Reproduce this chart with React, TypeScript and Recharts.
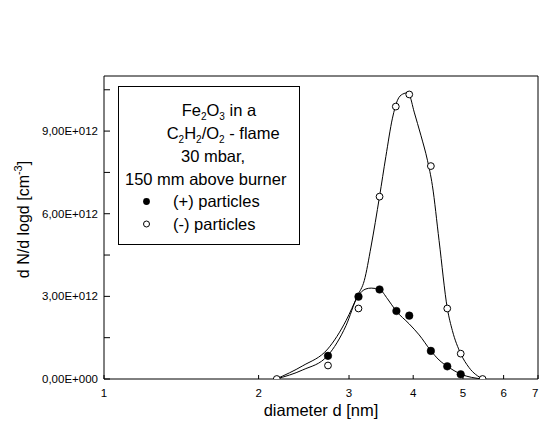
import React from 'react';
import { ComposedChart, Line, XAxis, YAxis, ReferenceLine, Legend } from 'recharts';

const FONT = '"Liberation Sans", Arial, Helvetica, sans-serif';

// ---- measured points (values in units of 1e12 cm^-3) ----
const negDiameters = [2.17, 2.73, 3.13, 3.44, 3.70, 3.93, 4.33, 4.66, 4.95, 5.46];
const negValues = [0, 0.49, 2.56, 6.62, 9.89, 10.33, 7.73, 2.56, 0.92, 0];
const posDiameters = [2.73, 3.13, 3.44, 3.71, 3.93, 4.33, 4.66, 4.95];
const posValues = [0.84, 2.99, 3.25, 2.47, 2.30, 1.02, 0.46, 0.17];

// ---- fitted curves ----
const negFitDiameters = [2.164, 2.438, 2.727, 2.96, 3.118, 3.212, 3.31, 3.44, 3.539, 3.645, 3.728, 3.813, 3.898, 3.929, 4.018, 4.14, 4.264, 4.359, 4.492, 4.662, 4.768, 4.95, 5.136, 5.46];
const negFitValues = [0, 0.48, 1.09, 2.12, 3.03, 3.57, 4.79, 6.63, 8.08, 9.47, 10.12, 10.34, 10.39, 10.33, 9.69, 8.85, 7.94, 7.03, 5.03, 2.56, 1.76, 0.92, 0.42, 0];
const posFitDiameters = [2.164, 2.438, 2.727, 2.96, 3.118, 3.237, 3.314, 3.44, 3.565, 3.702, 3.929, 4.109, 4.328, 4.492, 4.662, 4.95, 5.46];
const posFitValues = [0, 0.33, 0.85, 1.94, 2.99, 3.27, 3.30, 3.25, 2.91, 2.48, 2.0, 1.6, 1.03, 0.69, 0.46, 0.18, 0];

// ---- axes ----
const xTicks = [1, 2, 3, 4, 5, 6, 7];
const xDomain = [1, 7];
const yTicks = [0, 1.5e12, 3e12, 4.5e12, 6e12, 7.5e12, 9e12, 10.5e12];
const yMajorTicks = [0, 3e12, 6e12, 9e12];
const yTickLabels = ['0,00E+000', '3,00E+012', '6,00E+012', '9,00E+012'];
const yDomain = [0, 11e12];

const xTitle = 'diameter d [nm]';
const seriesNames = ['(+) particles', '(-) particles'];

const SCALE = 1e12;
const toRows = (ds: number[], vs: number[]) => ds.map((d, i) => ({ d, v: vs[i] * SCALE }));

const negPoints = toRows(negDiameters, negValues);
const posPoints = toRows(posDiameters, posValues);
const negFit = toRows(negFitDiameters, negFitValues);
const posFit = toRows(posFitDiameters, posFitValues);

const YTick = (props: any) => {
  const { x, y, payload } = props;
  const idx = yMajorTicks.indexOf(payload.value);
  return (
    <g>
      <line x1={x} x2={x + 6} y1={y} y2={y} stroke="#000" strokeWidth={1} />
      {idx >= 0 && (
        <text x={x - 6} y={y + 4} textAnchor="end" fontSize={11.5} fontFamily={FONT} fill="#000">
          {yTickLabels[idx]}
        </text>
      )}
    </g>
  );
};

const XTick = (props: any) => {
  const { x, y, payload, index } = props;
  const last = index === xTicks.length - 1;
  return (
    <g>
      <line x1={x} x2={x} y1={y} y2={y - 4} stroke="#000" strokeWidth={1} />
      <text x={last ? x + 0.5 : x} y={y + 18} textAnchor={last ? 'end' : 'middle'} fontSize={11.5} fontFamily={FONT} fill="#000">
        {String(payload.value)}
      </text>
    </g>
  );
};

const XTitle = (props: any) => {
  const vb = props.viewBox || {};
  return (
    <text x={vb.x + vb.width / 2} y={vb.y + 37} textAnchor="middle" fontSize={16.5} fontFamily={FONT} fill="#000">
      {xTitle}
    </text>
  );
};

const YTitle = (props: any) => {
  const vb = props.viewBox || {};
  const cx = vb.x + 28.5;
  const cy = vb.y + vb.height / 2 - 8;
  return (
    <text x={cx} y={cy} transform={`rotate(-90, ${cx}, ${cy})`} textAnchor="middle" fontSize={16} fontFamily={FONT} fill="#000">
      d N/d logd [cm<tspan dy={-7} fontSize={11}>-3</tspan><tspan dy={7}>]</tspan>
    </text>
  );
};

const FilledDot = (props: any) => {
  const { cx, cy, index } = props;
  if (cx == null || cy == null) return <g key={index} />;
  return <circle key={index} cx={cx} cy={cy} r={3.8} fill="#000" stroke="#000" strokeWidth={0.5} />;
};

const OpenDot = (props: any) => {
  const { cx, cy, index } = props;
  if (cx == null || cy == null) return <g key={index} />;
  return <circle key={index} cx={cx} cy={cy} r={3.4} fill="#fff" stroke="#000" strokeWidth={1} />;
};

const LegendBox = () => (
  <svg width={182} height={159} style={{ display: 'block', fontFamily: FONT }}>
    <rect x={0.5} y={0.5} width={181} height={158} fill="#fff" stroke="#000" strokeWidth={1} />
    <text x={63.7} y={30} fontSize={16.5} fill="#000">
      Fe<tspan dy={4} fontSize={10}>2</tspan>
      <tspan dy={-4}>O</tspan>
      <tspan dy={4} fontSize={10}>3</tspan>
      <tspan dy={-4}> in a</tspan>
    </text>
    <text x={48.7} y={53} fontSize={16.5} fill="#000">
      C<tspan dy={4} fontSize={10}>2</tspan>
      <tspan dy={-4}>H</tspan>
      <tspan dy={4} fontSize={10}>2</tspan>
      <tspan dy={-4}>/O</tspan>
      <tspan dy={4} fontSize={10}>2</tspan>
      <tspan dy={-4}> - flame</tspan>
    </text>
    <text x={63} y={76} fontSize={16.5} fill="#000">30 mbar,</text>
    <text x={7} y={98.5} fontSize={16.5} fill="#000">150 mm above burner</text>
    <circle cx={28.5} cy={115.5} r={3.4} fill="#000" />
    <text x={55} y={121} fontSize={16.5} fill="#000">{seriesNames[0]}</text>
    <circle cx={28.5} cy={138} r={3} fill="#fff" stroke="#000" strokeWidth={1} />
    <text x={55} y={143.5} fontSize={16.5} fill="#000">{seriesNames[1]}</text>
  </svg>
);

export default function App() {
  return (
    <div style={{ position: 'absolute', left: 0, top: 0, width: 539, height: 424, background: '#fff' }}>
      <ComposedChart width={539} height={424} margin={{ top: 76, right: 1, bottom: 0, left: 0 }}>
        <XAxis
          dataKey="d"
          type="number"
          scale="log"
          domain={xDomain}
          ticks={xTicks}
          interval={0}
          allowDataOverflow
          height={45}
          tickSize={0}
          tickMargin={0}
          tickLine={false}
          axisLine={{ stroke: '#000', strokeWidth: 1 }}
          tick={<XTick />}
          label={{ content: <XTitle /> }}
        />
        <YAxis
          type="number"
          domain={yDomain}
          ticks={yTicks}
          interval={0}
          allowDataOverflow
          width={104}
          tickSize={0}
          tickMargin={0}
          tickLine={false}
          axisLine={{ stroke: '#000', strokeWidth: 1 }}
          tick={<YTick />}
          label={{ content: <YTitle /> }}
        />
        <ReferenceLine y={11e12} stroke="#000" strokeWidth={1} />
        <ReferenceLine x={7} stroke="#000" strokeWidth={1} />
        <Line data={negFit} dataKey="v" type="monotone" stroke="#000" strokeWidth={1} dot={false} activeDot={false} isAnimationActive={false} legendType="none" />
        <Line data={posFit} dataKey="v" type="monotone" stroke="#000" strokeWidth={1} dot={false} activeDot={false} isAnimationActive={false} legendType="none" />
        <Line data={posPoints} dataKey="v" stroke="none" dot={<FilledDot />} activeDot={false} isAnimationActive={false} name={seriesNames[0]} />
        <Line data={negPoints} dataKey="v" stroke="none" dot={<OpenDot />} activeDot={false} isAnimationActive={false} name={seriesNames[1]} />
        <Legend
          layout="vertical"
          align="center"
          verticalAlign="middle"
          content={<LegendBox />}
          wrapperStyle={{ position: 'absolute', left: 118, top: 86, width: 182, height: 159 }}
        />
      </ComposedChart>
    </div>
  );
}
